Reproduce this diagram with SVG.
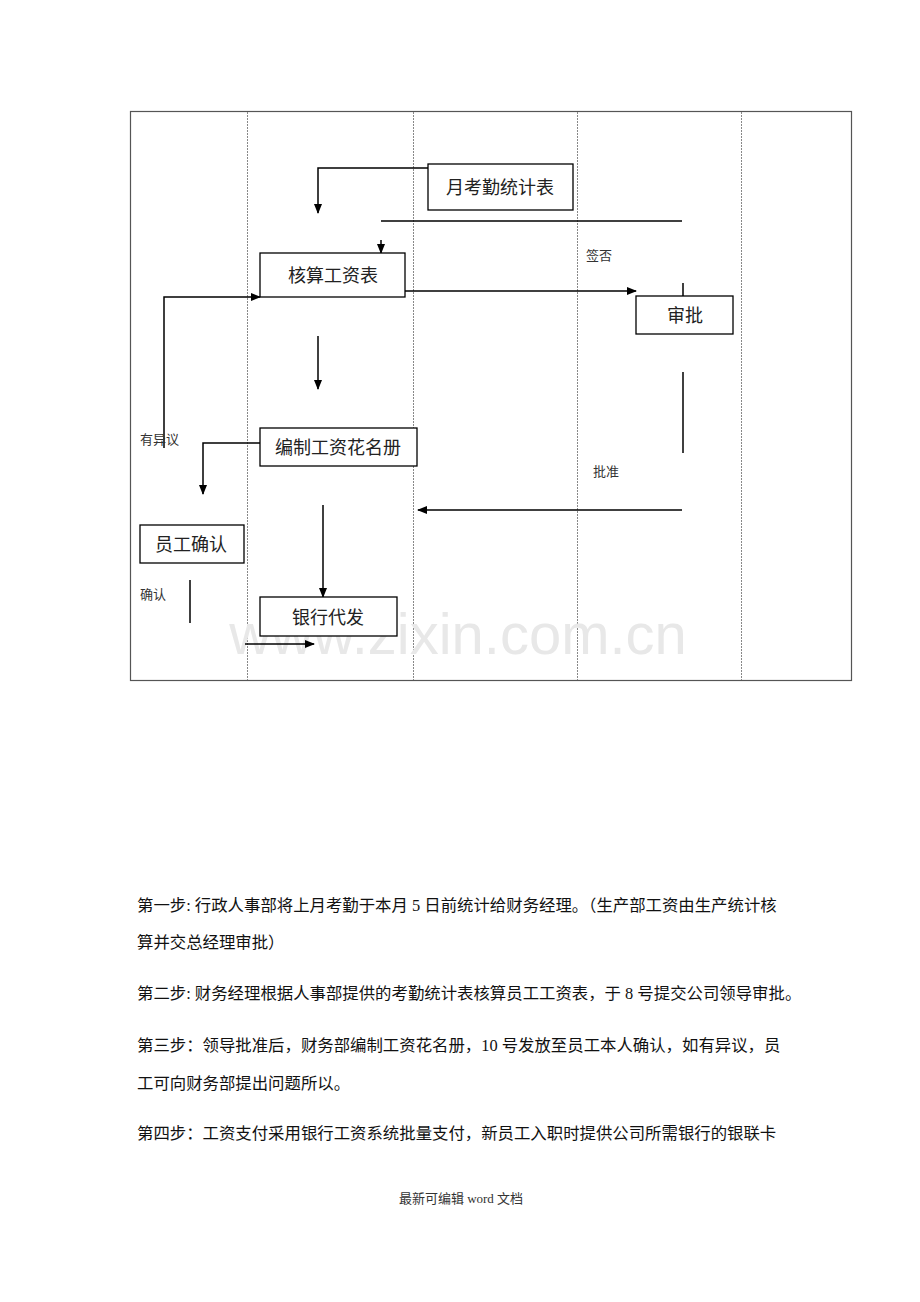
<svg xmlns="http://www.w3.org/2000/svg" width="920" height="1302" viewBox="0 0 920 1302">
<defs>
<marker id="ah" markerWidth="10" markerHeight="8" refX="9" refY="4" orient="auto" markerUnits="userSpaceOnUse"><path d="M0,0 L10,4 L0,8 z" fill="#000"/></marker>
<style>
.box{fill:#fff;stroke:#000;stroke-width:1.3}
.bt{font-family:"Liberation Serif","Noto Sans CJK SC",serif;font-size:18px;fill:#222}
.lb{font-family:"Liberation Serif","Noto Sans CJK SC",serif;font-size:13px;fill:#333}
.tx{font-family:"Liberation Serif","Noto Sans CJK SC",serif;font-size:16.4px;fill:#111}
.ln{fill:none;stroke:#000;stroke-width:1.5}
.lane{stroke:#888;stroke-width:1;stroke-dasharray:2,1}
</style>
</defs>
<rect width="920" height="1302" fill="#fff"/>
<rect x="130.5" y="111.5" width="721" height="569" fill="none" stroke="#555" stroke-width="1.2"/>
<g id="lanes">
<line class="lane" x1="247.5" y1="112" x2="247.5" y2="680"/>
<line class="lane" x1="413.5" y1="112" x2="413.5" y2="680"/>
<line class="lane" x1="577.5" y1="112" x2="577.5" y2="680"/>
<line class="lane" x1="741.5" y1="112" x2="741.5" y2="680"/>
</g>
<text x="458" y="654" font-family="Liberation Sans,sans-serif" font-size="58" fill="#e8e8e8" text-anchor="middle">www.zixin.com.cn</text>
<g id="connectors">
<path class="ln" d="M433,168 H318 V213" marker-end="url(#ah)"/>
<line class="ln" x1="381" y1="221" x2="682" y2="221"/>
<line class="ln" x1="381" y1="240" x2="381" y2="253" marker-end="url(#ah)"/>
<line class="ln" x1="405" y1="291" x2="636" y2="291" marker-end="url(#ah)"/>
<path class="ln" d="M164,448 V297 H260" marker-end="url(#ah)"/>
<line class="ln" x1="318" y1="336" x2="318" y2="389" marker-end="url(#ah)"/>
<path class="ln" d="M260,443 H203 V494" marker-end="url(#ah)"/>
<line class="ln" x1="190" y1="580" x2="190" y2="623"/>
<line class="ln" x1="323" y1="505" x2="323" y2="597" marker-end="url(#ah)"/>
<line class="ln" x1="245" y1="644" x2="314" y2="644" marker-end="url(#ah)"/>
<line class="ln" x1="683" y1="283" x2="683" y2="296"/>
<line class="ln" x1="683" y1="372" x2="683" y2="453"/>
<line class="ln" x1="682" y1="510" x2="418" y2="510" marker-end="url(#ah)"/>
<text class="lb" x="586" y="260">签否</text>
<text class="lb" x="593" y="476">批准</text>
<text class="lb" x="140" y="444">有异议</text>
<text class="lb" x="140" y="599">确认</text>
</g>
<g id="n1"><rect class="box" x="428" y="164" width="145" height="46"/><text class="bt" x="500" y="194" text-anchor="middle">月考勤统计表</text></g>
<g id="n2"><rect class="box" x="260" y="253" width="145" height="44"/><text class="bt" x="333" y="282" text-anchor="middle">核算工资表</text></g>
<g id="n3"><rect class="box" x="636" y="296" width="97" height="38"/><text class="bt" x="685" y="322" text-anchor="middle">审批</text></g>
<g id="n4"><rect class="box" x="260" y="428" width="157" height="38"/><text class="bt" x="338" y="454" text-anchor="middle">编制工资花名册</text></g>
<g id="n5"><rect class="box" x="140" y="525" width="104" height="38"/><text class="bt" x="191" y="551" text-anchor="middle">员工确认</text></g>
<g id="n6"><rect class="box" x="260" y="597" width="137" height="39"/><text class="bt" x="328" y="624" text-anchor="middle">银行代发</text></g>
<g id="text">
<text class="tx" x="137" y="911">第一步: 行政人事部将上月考勤于本月 5 日前统计给财务经理。（生产部工资由生产统计核</text>
<text class="tx" x="137" y="948">算并交总经理审批）</text>
<text class="tx" x="137" y="999">第二步: 财务经理根据人事部提供的考勤统计表核算员工工资表，于 8 号提交公司领导审批。</text>
<text class="tx" x="137" y="1051">第三步：领导批准后，财务部编制工资花名册，10 号发放至员工本人确认，如有异议，员</text>
<text class="tx" x="137" y="1089">工可向财务部提出问题所以。</text>
<text class="tx" x="137" y="1139">第四步：工资支付采用银行工资系统批量支付，新员工入职时提供公司所需银行的银联卡</text>
<text class="lb" x="461" y="1203" text-anchor="middle">最新可编辑 word 文档</text>
</g>
</svg>
